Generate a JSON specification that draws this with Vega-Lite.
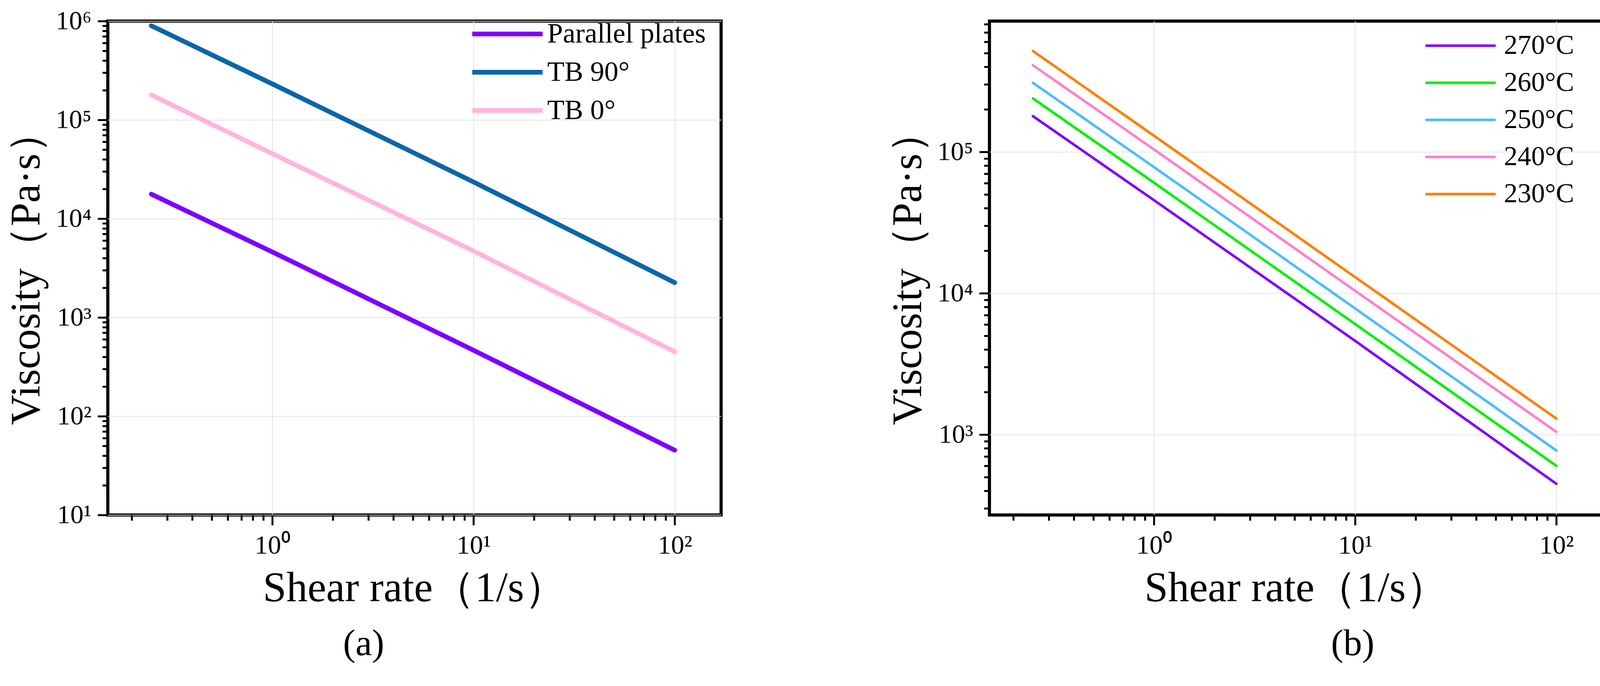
{
  "$schema": "https://vega.github.io/schema/vega-lite/v6.json",
  "padding": {"left": 10, "top": 16, "right": 0, "bottom": 0},
  "background": "white",
  "spacing": 417,
  "hconcat": [
    {
      "width": 1570,
      "height": 1265,
      "title": {"text": "(a)", "orient": "bottom", "anchor": "middle", "frame": "group", "dx": -130, "offset": 42, "fontSize": 95, "font": "Liberation Serif", "fontWeight": "normal", "color": "black"},
      "data": {"values": [
        {"series": "Parallel plates", "rate": 0.25, "viscosity": 17700},
        {"series": "Parallel plates", "rate": 1, "viscosity": 4600},
        {"series": "Parallel plates", "rate": 10, "viscosity": 465},
        {"series": "Parallel plates", "rate": 100, "viscosity": 45.3},
        {"series": "TB 90°", "rate": 0.25, "viscosity": 897000},
        {"series": "TB 90°", "rate": 1, "viscosity": 231000},
        {"series": "TB 90°", "rate": 10, "viscosity": 23500},
        {"series": "TB 90°", "rate": 100, "viscosity": 2250},
        {"series": "TB 0°", "rate": 0.25, "viscosity": 179000},
        {"series": "TB 0°", "rate": 1, "viscosity": 45500},
        {"series": "TB 0°", "rate": 10, "viscosity": 4700},
        {"series": "TB 0°", "rate": 100, "viscosity": 449}
      ]},
      "mark": {"type": "line", "strokeWidth": 12, "strokeCap": "round"},
      "encoding": {
        "x": {
          "field": "rate", "type": "quantitative",
          "scale": {"type": "log", "domain": [0.152, 170], "nice": false},
          "axis": {
            "title": "Shear rate（1/s）",
            "values": [0.2, 0.3, 0.4, 0.5, 0.6, 0.7, 0.8, 0.9, 1, 2, 3, 4, 5, 6, 7, 8, 9, 10, 20, 30, 40, 50, 60, 70, 80, 90, 100],
            "labelExpr": "abs(log(datum.value)/LN10 - round(log(datum.value)/LN10)) < 0.001 ? '10' + ['⁰','¹','²','³','⁴','⁵','⁶'][round(log(datum.value)/LN10)] : ''",
            "tickSize": {"condition": {"test": "abs(log(datum.value)/LN10 - round(log(datum.value)/LN10)) < 0.001", "value": 26}, "value": 14},
            "gridOpacity": {"condition": {"test": "abs(log(datum.value)/LN10 - round(log(datum.value)/LN10)) < 0.001", "value": 1}, "value": 0},
            "labelPadding": 18,
            "titlePadding": 23
          }
        },
        "y": {
          "field": "viscosity", "type": "quantitative",
          "scale": {"type": "log", "domain": [10, 1000000], "nice": false},
          "axis": {
            "title": "Viscosity（Pa·s）",
            "values": [10, 20, 30, 40, 50, 60, 70, 80, 90, 100, 200, 300, 400, 500, 600, 700, 800, 900, 1000, 2000, 3000, 4000, 5000, 6000, 7000, 8000, 9000, 10000, 20000, 30000, 40000, 50000, 60000, 70000, 80000, 90000, 100000, 200000, 300000, 400000, 500000, 600000, 700000, 800000, 900000, 1000000],
            "labelExpr": "abs(log(datum.value)/LN10 - round(log(datum.value)/LN10)) < 0.001 ? '10' + ['⁰','¹','²','³','⁴','⁵','⁶'][round(log(datum.value)/LN10)] : ''",
            "tickSize": {"condition": {"test": "abs(log(datum.value)/LN10 - round(log(datum.value)/LN10)) < 0.001", "value": 26}, "value": 14},
            "gridOpacity": {"condition": {"test": "abs(log(datum.value)/LN10 - round(log(datum.value)/LN10)) < 0.001", "value": 1}, "value": 0},
            "labelPadding": 16,
            "titlePadding": 19
          }
        },
        "color": {
          "field": "series", "type": "nominal",
          "scale": {"domain": ["Parallel plates", "TB 90°", "TB 0°"], "range": ["#7f00ff", "#0a66a8", "#ffb5de"]},
          "legend": {
            "title": null,
            "orient": "none",
            "legendX": 987,
            "legendY": -3,
            "padding": 0,
            "symbolType": "M-6,0H6",
            "symbolSize": 900,
            "symbolStrokeWidth": 12,
            "labelOffset": 66,
            "labelFontSize": 72,
            "labelFont": "Liberation Serif",
            "labelColor": "black",
            "labelLimit": 1000,
            "rowPadding": 26
          }
        }
      }
    },
    {
      "width": 1570,
      "height": 1265,
      "title": {"text": "(b)", "orient": "bottom", "anchor": "middle", "frame": "group", "dx": 145, "offset": 42, "fontSize": 95, "font": "Liberation Serif", "fontWeight": "normal", "color": "black"},
      "data": {"values": [
        {"series": "270°C", "rate": 0.25, "viscosity": 179000},
        {"series": "270°C", "rate": 1, "viscosity": 45500},
        {"series": "270°C", "rate": 10, "viscosity": 4600},
        {"series": "270°C", "rate": 100, "viscosity": 449},
        {"series": "260°C", "rate": 0.25, "viscosity": 239000},
        {"series": "260°C", "rate": 1, "viscosity": 60500},
        {"series": "260°C", "rate": 10, "viscosity": 6050},
        {"series": "260°C", "rate": 100, "viscosity": 601},
        {"series": "250°C", "rate": 0.25, "viscosity": 308000},
        {"series": "250°C", "rate": 1, "viscosity": 78000},
        {"series": "250°C", "rate": 10, "viscosity": 7800},
        {"series": "250°C", "rate": 100, "viscosity": 771},
        {"series": "240°C", "rate": 0.25, "viscosity": 410000},
        {"series": "240°C", "rate": 1, "viscosity": 104000},
        {"series": "240°C", "rate": 10, "viscosity": 10400},
        {"series": "240°C", "rate": 100, "viscosity": 1045},
        {"series": "230°C", "rate": 0.25, "viscosity": 517000},
        {"series": "230°C", "rate": 1, "viscosity": 130000},
        {"series": "230°C", "rate": 10, "viscosity": 13000},
        {"series": "230°C", "rate": 100, "viscosity": 1298}
      ]},
      "mark": {"type": "line", "strokeWidth": 6.5, "strokeCap": "round"},
      "encoding": {
        "x": {
          "field": "rate", "type": "quantitative",
          "scale": {"type": "log", "domain": [0.152, 170], "nice": false},
          "axis": {
            "title": "Shear rate（1/s）",
            "values": [0.2, 0.3, 0.4, 0.5, 0.6, 0.7, 0.8, 0.9, 1, 2, 3, 4, 5, 6, 7, 8, 9, 10, 20, 30, 40, 50, 60, 70, 80, 90, 100],
            "labelExpr": "abs(log(datum.value)/LN10 - round(log(datum.value)/LN10)) < 0.001 ? '10' + ['⁰','¹','²','³','⁴','⁵','⁶'][round(log(datum.value)/LN10)] : ''",
            "tickSize": {"condition": {"test": "abs(log(datum.value)/LN10 - round(log(datum.value)/LN10)) < 0.001", "value": 26}, "value": 14},
            "gridOpacity": {"condition": {"test": "abs(log(datum.value)/LN10 - round(log(datum.value)/LN10)) < 0.001", "value": 1}, "value": 0},
            "labelPadding": 18,
            "titlePadding": 23
          }
        },
        "y": {
          "field": "viscosity", "type": "quantitative",
          "scale": {"type": "log", "domain": [270, 842000], "nice": false},
          "axis": {
            "title": "Viscosity（Pa·s）",
            "values": [300, 400, 500, 600, 700, 800, 900, 1000, 2000, 3000, 4000, 5000, 6000, 7000, 8000, 9000, 10000, 20000, 30000, 40000, 50000, 60000, 70000, 80000, 90000, 100000, 200000, 300000, 400000, 500000, 600000, 700000, 800000],
            "labelExpr": "abs(log(datum.value)/LN10 - round(log(datum.value)/LN10)) < 0.001 ? '10' + ['⁰','¹','²','³','⁴','⁵','⁶'][round(log(datum.value)/LN10)] : ''",
            "tickSize": {"condition": {"test": "abs(log(datum.value)/LN10 - round(log(datum.value)/LN10)) < 0.001", "value": 26}, "value": 14},
            "gridOpacity": {"condition": {"test": "abs(log(datum.value)/LN10 - round(log(datum.value)/LN10)) < 0.001", "value": 1}, "value": 0},
            "labelPadding": 16,
            "titlePadding": 19
          }
        },
        "color": {
          "field": "series", "type": "nominal",
          "scale": {"domain": ["270°C", "260°C", "250°C", "240°C", "230°C"], "range": ["#7f00ff", "#00f000", "#4dbbff", "#ff7fcc", "#ff7f00"]},
          "legend": {
            "title": null,
            "orient": "none",
            "legendX": 1171,
            "legendY": 28,
            "padding": 0,
            "symbolType": "M-6,0H6",
            "symbolSize": 900,
            "symbolStrokeWidth": 6.5,
            "labelOffset": 76,
            "labelFontSize": 70,
            "labelFont": "Liberation Serif",
            "labelColor": "black",
            "labelLimit": 1000,
            "rowPadding": 25
          }
        }
      }
    }
  ],
  "resolve": {"scale": {"color": "independent", "y": "independent"}, "legend": {"color": "independent"}},
  "config": {
    "view": {"stroke": "black", "strokeWidth": 8},
    "axis": {
      "domain": false,
      "grid": true,
      "gridColor": "#e3e3e3",
      "gridWidth": 2,
      "tickColor": "black",
      "tickWidth": 5,
      "labelFont": "Liberation Serif",
      "labelFontSize": 68,
      "labelColor": "black",
      "labelOverlap": false,
      "titleFont": "Liberation Serif",
      "titleFontSize": 108,
      "titleFontWeight": "normal",
      "titleColor": "black"
    },
    "legend": {"symbolFillColor": "transparent"}
  }
}
